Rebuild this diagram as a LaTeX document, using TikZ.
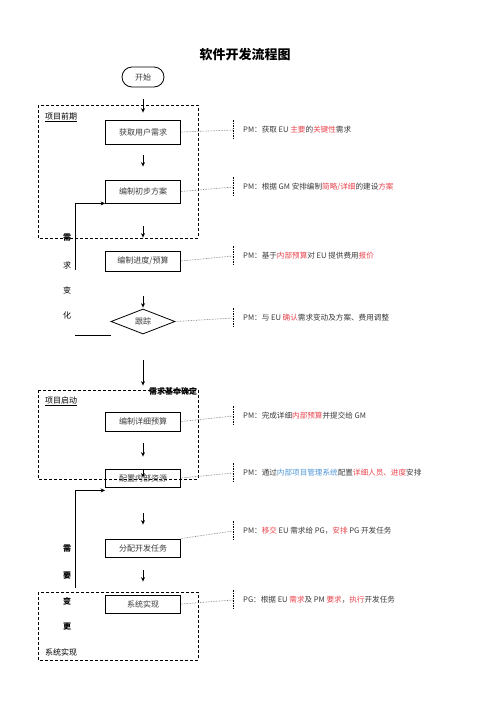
\documentclass[tikz,border=0pt]{standalone}
\usepackage{fontspec}
\setmainfont{Noto Sans CJK SC}
\usetikzlibrary{arrows.meta,positioning,calc,shapes.geometric}
\definecolor{Hot}{HTML}{E8434C}
\definecolor{Sky}{HTML}{4F96D6}
\definecolor{Ink}{HTML}{3A3A3A}
\newcommand{\hot}[1]{\textcolor{Hot}{#1}}
\newcommand{\sky}[1]{\textcolor{Sky}{#1}}

\begin{document}
\begin{tikzpicture}[x=1pt,y=-1pt,>={Stealth[length=4.5pt,width=4pt]},
    stepbox/.style={draw,line width=0.8pt,minimum width=75pt,minimum height=19pt,inner sep=0pt,text=Ink,font=\fontsize{8}{9}\selectfont},
    frame/.style={dashed,line width=0.8pt,dash pattern=on 3pt off 2pt},
    link/.style={densely dotted,gray!80!black,line width=0.6pt},
    tick/.style={dash pattern=on 1.5pt off 1pt,line width=0.8pt},
    note/.style={anchor=west,inner sep=0pt,text=Ink,font=\fontsize{7.6}{9}\selectfont},
    side/.style={font=\fontsize{8}{9}\selectfont},
    flow/.style={->,line width=0.9pt}]
  \useasboundingbox (0,0) rectangle (496,702);
  \node[font=\fontsize{13}{15}\selectfont\bfseries] (title) at (245,55) {软件开发流程图};
  % frames
  \draw[frame] (38,105) rectangle (198,238);
  \draw[frame] (38,390) rectangle (198,479);
  \draw[frame] (38,592) rectangle (198,660);
  \node[side,anchor=west,inner sep=0pt] (early) at (45,117) {\underline{项目前期}};
  \node[side,anchor=west,inner sep=0pt] (kick) at (45,401) {\underline{项目启动}};
  \node[side,anchor=west,inner sep=0pt] (build) at (45,652) {系统实现};
  \node[side,font=\fontsize{8}{9}\selectfont\bfseries] (fixed) at (173,391) {需求基本确定};
  % steps
  \node[stepbox,minimum width=42pt,minimum height=20pt,rounded corners=10pt] (start) at (143,77) {开始};
  \node[stepbox,minimum height=24pt] (get) at (143,132) {获取用户需求};
  \node[stepbox,minimum height=23pt] (plan) at (143,191.5) {编制初步方案};
  \node[stepbox,minimum height=20pt] (sched) at (143,261) {编制进度/预算};
  \node[stepbox,shape=diamond,aspect=2.56,minimum width=64pt,minimum height=25pt] (track) at (143,321.5) {跟踪};
  \node[stepbox] (detail) at (143,421.5) {编制详细预算};
  \node[stepbox,minimum height=18pt] (alloc) at (143,478) {配置内部资源};
  \node[stepbox,minimum height=18pt] (assign) at (143,548) {分配开发任务};
  \node[stepbox,minimum height=18pt] (impl) at (143,604) {系统实现};
  \foreach \u/\v/\s/\t in {start/get/12/7,get/plan/11/13,plan/sched/23/13,sched/track/25/1,
      track/detail/26/26,detail/alloc/12/12,alloc/assign/26/14,assign/impl/13/13}
    \draw[flow,shorten <=\s pt,shorten >=\t pt] (\u)--(\v);
  \draw[flow] (alloc.north) -- ++(0,9);
  % change loops
  \foreach \c/\y/\k in {{\textbf{需}}/238/1,求/265/2,变/290/3,化/315/4}
    \node[side] (chg-\k) at (67,\y) {\c};
  \foreach \c/\y/\k in {需/549/1,要/576/2,变/601/3,更/627/4}
    \node[side,font=\fontsize{8}{9}\selectfont\bfseries] (mod-\k) at (67,\y) {\c};
  \coordinate (c1) at (75,335);
  \coordinate (c2) at (75,270);
  \coordinate (c3) at (75,588);
  \draw[line width=0.8pt] (c1) -- (c1 -| track.west);
  \draw[flow] (c2) |- (plan.south west);
  \draw[flow] (c3) |- ([yshift=-3pt]alloc.south west);
  % notes
  \foreach \n/\a/\y/\t in {
      get/east/130/{PM：获取 EU \hot{主要}的\hot{关键性}需求},
      plan/east/187/{PM：根据 GM 安排编制\hot{简略/详细}的建设\hot{方案}},
      sched/east/256/{PM：基于\hot{内部预算}对 EU 提供费用\hot{报价}},
      track/east/318/{PM：与 EU \hot{确认}需求变动及方案、费用调整},
      detail/east/416/{PM：完成详细\hot{内部预算}并提交给 GM},
      alloc/east/473/{PM：通过\sky{内部项目管理系统}配置\hot{详细人员、进度}安排},
      assign/north east/531/{PM：\hot{移交} EU 需求给 PG，\hot{安排} PG 开发任务},
      impl/east/600/{PG：根据 EU \hot{需求}及 PM \hot{要求}，\hot{执行}开发任务}}
  {
    \draw[link] (\n.\a) -- (233,\y);
    \draw[tick] (233,\y-10) -- (233,\y+10);
    \node[note] (note-\n) at (243,\y) {\t};
  }
\end{tikzpicture}
\end{document}
